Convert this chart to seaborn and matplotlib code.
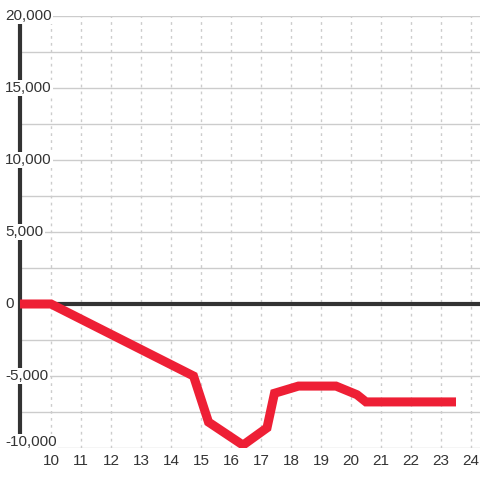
import matplotlib
matplotlib.use("Agg")
import matplotlib.pyplot as plt
import matplotlib.transforms as mtransforms
import seaborn as sns
import pandas as pd

# values
x_vals = [8.9, 10.0, 14.75, 15.25, 16.4, 17.2, 17.45, 18.25, 19.5, 20.2, 20.5, 23.5]
y_vals = [0, 0, -5000, -8200, -9800, -8600, -6200, -5700, -5700, -6300, -6800, -6800]
x_ticks = list(range(10, 25))
y_ticks = [-10000, -5000, 0, 5000, 10000, 15000, 20000]
y_minor = [-7500, -2500, 2500, 7500, 12500, 17500]

df = pd.DataFrame({"x": x_vals, "y": y_vals})

sns.set_theme(style="white")
plt.rcParams["font.family"] = ["Liberation Sans", "DejaVu Sans"]

fig = plt.figure(figsize=(4.8, 4.8), dpi=100)
ax = fig.add_axes([20 / 480, 32 / 480, 460 / 480, 432 / 480])

# horizontal grid (solid) and vertical grid (dotted)
for v in y_ticks + y_minor:
    ax.axhline(v, color="#cccccc", lw=1, zorder=1)
for v in x_ticks:
    ax.axvline(v, color="#cccccc", lw=1, ls=(0, (2, 3)), zorder=1)

ax.axhline(0, color="#333333", lw=3, zorder=2)

sns.lineplot(data=df, x="x", y="y", ax=ax, color="#ee1f35", lw=6.5,
             solid_joinstyle="miter", solid_capstyle="butt", zorder=3)

ax.set_xlim(10 - 31 / 30, 10 + 429 / 30)
ax.set_ylim(-10000, 20000)
ax.set_xticks(x_ticks)
ax.set_xticklabels([str(t) for t in x_ticks])
ax.set_yticks([])
ax.tick_params(axis="x", length=0, pad=4, labelsize=11, colors="#333333")
ax.set_xlabel("")
ax.set_ylabel("")

for side in ["top", "right", "bottom"]:
    ax.spines[side].set_visible(False)
ax.spines["left"].set_color("#333333")
ax.spines["left"].set_linewidth(3)

# y labels sit on top of the axis line with a white backing
trans = mtransforms.blended_transform_factory(ax.transAxes, ax.transData)
for v in y_ticks:
    pos = v + 400 if v == -10000 else v
    ax.text(-15 / 460, pos, f"{v:,}", transform=trans, ha="left", va="center",
            fontsize=11, color="#333333", clip_on=False, zorder=10,
            bbox=dict(facecolor="white", edgecolor="none", pad=1))

fig.savefig("out.png", dpi=100)
